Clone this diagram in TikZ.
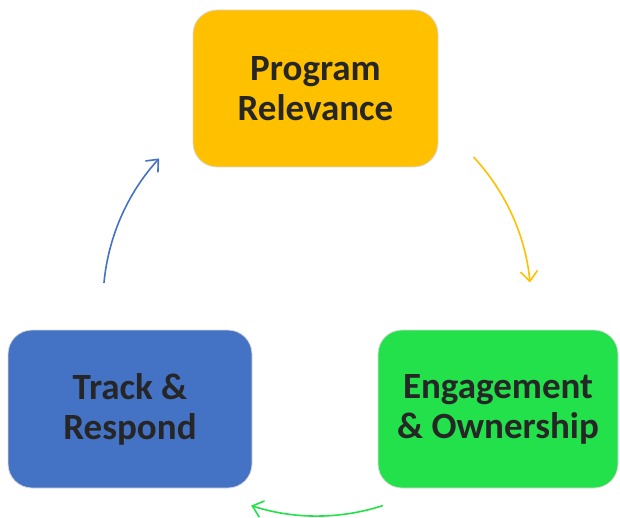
\documentclass[tikz,border=0pt]{standalone}
\usepackage{fontspec}
\setmainfont{Carlito}
\usetikzlibrary{arrows.meta}
\definecolor{boxyellow}{HTML}{FFC000}
\definecolor{boxgreen}{HTML}{22E14B}
\definecolor{boxblue}{HTML}{4472C4}
\definecolor{txtdark}{HTML}{262626}
\begin{document}
\begin{tikzpicture}[x=1pt,y=1pt,
  stage/.style={draw=black!15,line width=0.8pt,rounded corners=24pt,
    align=center,inner sep=0pt,text=txtdark,
    font=\bfseries\fontsize{37}{40}\selectfont},
  cyc/.style={line width=1.6pt,-{Straight Barb[length=10pt,width=17pt]}}]
  \useasboundingbox (0,0) rectangle (620,517);
  \node[stage,fill=boxyellow,minimum width=245pt,minimum height=157pt] (prog) at (315.5,428.5) {Program\\Relevance};
  \node[stage,fill=boxgreen,minimum width=240pt,minimum height=158pt] (eng) at (498,108) {Engagement\\\& Ownership};
  \node[stage,fill=boxblue,minimum width=244pt,minimum height=158pt] (track) at (130,108) {Track \&\\Respond};
  \coordinate (mid) at (317,214);
  \draw[cyc,boxyellow] (mid) ++(43:214) arc[start angle=43,end angle=5.5,radius=214];
  \draw[cyc,boxgreen] (mid) ++(-72:213) arc[start angle=-72,end angle=-108,radius=213];
  \draw[cyc,boxblue] (mid) ++(174.6:214) arc[start angle=174.6,end angle=137.5,radius=214];
\end{tikzpicture}
\end{document}
